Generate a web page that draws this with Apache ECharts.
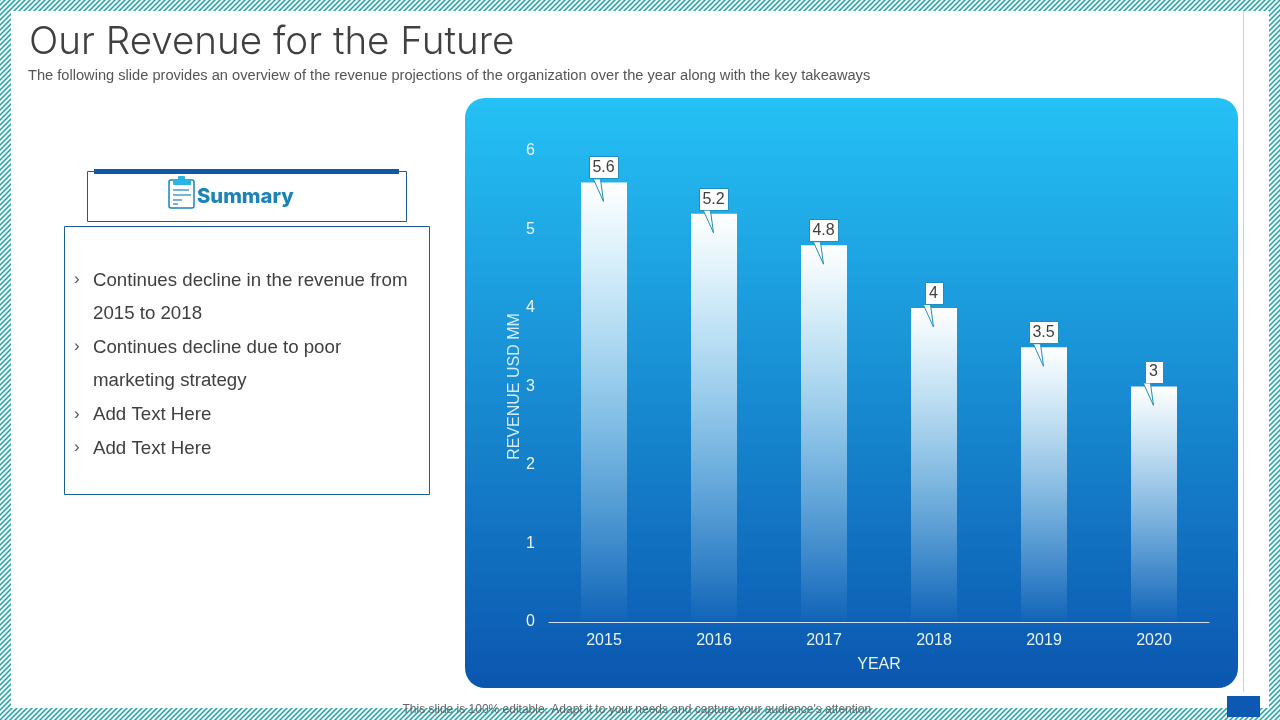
<!DOCTYPE html>
<html><head><meta charset="utf-8">
<style>html,body{margin:0;padding:0;background:#fff}#c{width:1280px;height:720px}</style>
<script src="https://cdn.jsdelivr.net/npm/echarts@6/dist/echarts.min.js"></script>
</head><body><div id="c"></div>
<script>
const years = ['2015','2016','2017','2018','2019','2020'];
const revenue = [5.6,5.2,4.8,4,3.5,3];
const yTicks = {min:0,max:6,interval:1};
const titleText = 'Our Revenue for the Future';
const subtitleText = 'The following slide provides an overview of the revenue projections of the organization over the year along with the key takeaways';
const footerText = "This slide is 100% editable. Adapt it to your needs and capture your audience's attention.";
const summaryLines = [
  {b:true,t:'Continues decline in the revenue from'},
  {b:false,t:'2015 to 2018'},
  {b:true,t:'Continues decline due to poor'},
  {b:false,t:'marketing strategy'},
  {b:true,t:'Add Text Here'},
  {b:true,t:'Add Text Here'}
];
const sans = '"Liberation Sans",Arial,sans-serif';

const tile = document.createElement('canvas');
tile.width = 5; tile.height = 5;
(function(){
  const g = tile.getContext('2d');
  g.fillStyle = '#f2fbfb'; g.fillRect(0,0,5,5);
  g.strokeStyle = '#22a0a8'; g.lineWidth = 1.5;
  [[-1,1,1,-1],[-1,6,6,-1],[4,6,6,4]].forEach(l=>{g.beginPath();g.moveTo(l[0],l[1]);g.lineTo(l[2],l[3]);g.stroke();});
})();

const gfx = [];
const add = o => gfx.push(Object.assign({silent:true},o));
add({type:'rect',z:-10,shape:{x:0,y:0,width:1280,height:720},style:{fill:{image:tile,repeat:'repeat'}}});
add({type:'rect',z:-9,shape:{x:11,y:11,width:1258,height:697},style:{fill:'#fff'}});
add({type:'line',z:-8,shape:{x1:1243.5,y1:11,x2:1243.5,y2:692},style:{stroke:'#cfd3d6',lineWidth:1}});
add({type:'rect',z:-8,shape:{x:1227,y:696,width:33,height:21},style:{fill:'#0c58b2'}});
add({type:'rect',z:-8,shape:{x:465,y:98,width:773,height:590,r:20},style:{fill:new echarts.graphic.LinearGradient(0,0,0,1,[{offset:0,color:'#25c1f5'},{offset:1,color:'#0b56af'}])}});
add({type:'text',z:5,x:29,y:42,style:{text:titleText,font:'300 38.6px Inter,Lato,sans-serif',fill:'#404040',verticalAlign:'middle'}});
add({type:'text',z:5,x:28,y:76,style:{text:subtitleText,font:'14.63px '+sans,fill:'#555',verticalAlign:'middle'}});
add({type:'text',z:5,x:638.5,y:709.5,style:{text:footerText,font:'12px '+sans,fill:'#666',align:'center',verticalAlign:'middle'}});
// summary header
add({type:'rect',z:1,shape:{x:87.5,y:171.5,width:319,height:50},style:{fill:'#fff',stroke:'#1a5f8f',lineWidth:1}});
add({type:'rect',z:2,shape:{x:94,y:169,width:305,height:5},style:{fill:'#1259a5'}});
add({type:'rect',z:2,shape:{x:169,y:180,width:25,height:28,r:2},style:{fill:'#fff',stroke:'#1b83b8',lineWidth:1.5}});
add({type:'rect',z:3,shape:{x:173,y:179,width:18,height:6,r:1},style:{fill:'#2ab4e6'}});
add({type:'rect',z:3,shape:{x:178,y:176,width:7,height:4,r:1},style:{fill:'#2ab4e6'}});
[[173,190,189],[173,195,191],[173,200,182],[173,204,178]].forEach(l=>add({type:'line',z:3,shape:{x1:l[0],y1:l[1],x2:l[2],y2:l[1]},style:{stroke:'#1b83b8',lineWidth:1.2}}));
add({type:'text',z:3,x:197,y:197,style:{text:'Summary',font:'800 20.2px Inter,"DejaVu Sans",sans-serif',fill:'#1b83b8',verticalAlign:'middle'}});
// summary body
add({type:'rect',z:1,shape:{x:64.5,y:226.5,width:365,height:268},style:{fill:'#fff',stroke:'#1a5f8f',lineWidth:1}});
summaryLines.forEach((l,i)=>{
  const y = 280.5 + i*33.6;
  if(l.b) add({type:'text',z:3,x:74,y:y-1,style:{text:'\u203A',font:'17px '+sans,fill:'#555',verticalAlign:'middle'}});
  add({type:'text',z:3,x:93,y:y,style:{text:l.t,font:'18.68px '+sans,fill:'#404040',verticalAlign:'middle'}});
});

const chart = echarts.init(document.getElementById('c'),null,{renderer:'canvas'});
chart.setOption({
  animation:false,
  graphic:{elements:gfx},
  grid:{left:549,right:71,top:151,height:471,containLabel:false},
  xAxis:{type:'category',data:years,name:'YEAR',nameLocation:'middle',nameGap:35,nameMoveOverlap:false,
    nameTextStyle:{color:'#e6f4fc',fontSize:16,fontFamily:sans},
    axisLine:{lineStyle:{color:'rgba(255,255,255,.8)',width:1}},axisTick:{show:false},
    axisLabel:{color:'#e6f4fc',fontSize:16,fontFamily:sans,margin:11}},
  yAxis:{type:'value',min:yTicks.min,max:yTicks.max,interval:yTicks.interval,name:'REVENUE USD MM',nameLocation:'middle',nameGap:26,nameMoveOverlap:false,
    nameTextStyle:{color:'#d4ecfa',fontSize:16,fontFamily:sans},
    axisLine:{show:false},axisTick:{show:false},splitLine:{show:false},
    axisLabel:{color:'#e6f4fc',fontSize:16,fontFamily:sans,margin:14,padding:[3,0,0,0]}},
  series:[
    {type:'bar',data:revenue,barWidth:46,z:2,silent:true,
      itemStyle:{color:new echarts.graphic.LinearGradient(0,0,0,1,[{offset:0,color:'rgba(255,255,255,1)'},{offset:.99,color:'rgba(255,255,255,.02)'},{offset:1,color:'rgba(255,255,255,0)'}])}},
    {type:'custom',z:5,silent:true,data:revenue.map((v,i)=>[i,v]),
      renderItem:function(params,api){
        const p = api.coord([api.value(0),api.value(1)]);
        const t = String(api.value(1));
        const w = t.length>1?29:18, top=p[1]-26, bottom=p[1]-3, x=p[0]-.5;
        const tail=[[x-10,bottom],[x,p[1]+19],[x-3,bottom]];
        return {type:'group',children:[
          {type:'rect',shape:{x:Math.round(x-w/2)+.5,y:Math.round(top)+.5,width:w,height:22},style:{fill:'#fff',stroke:'#1f8fbf',lineWidth:1}},
          {type:'polygon',shape:{points:tail},style:{fill:'#fff',stroke:null}},
          {type:'polyline',shape:{points:tail},style:{fill:null,stroke:'#1f8fbf',lineWidth:1}},
          {type:'text',x:x,y:top+11.5,style:{text:t,font:'16px '+sans,fill:'#404040',align:'center',verticalAlign:'middle'}}
        ]};
      }}
  ]
});
</script></body></html>
